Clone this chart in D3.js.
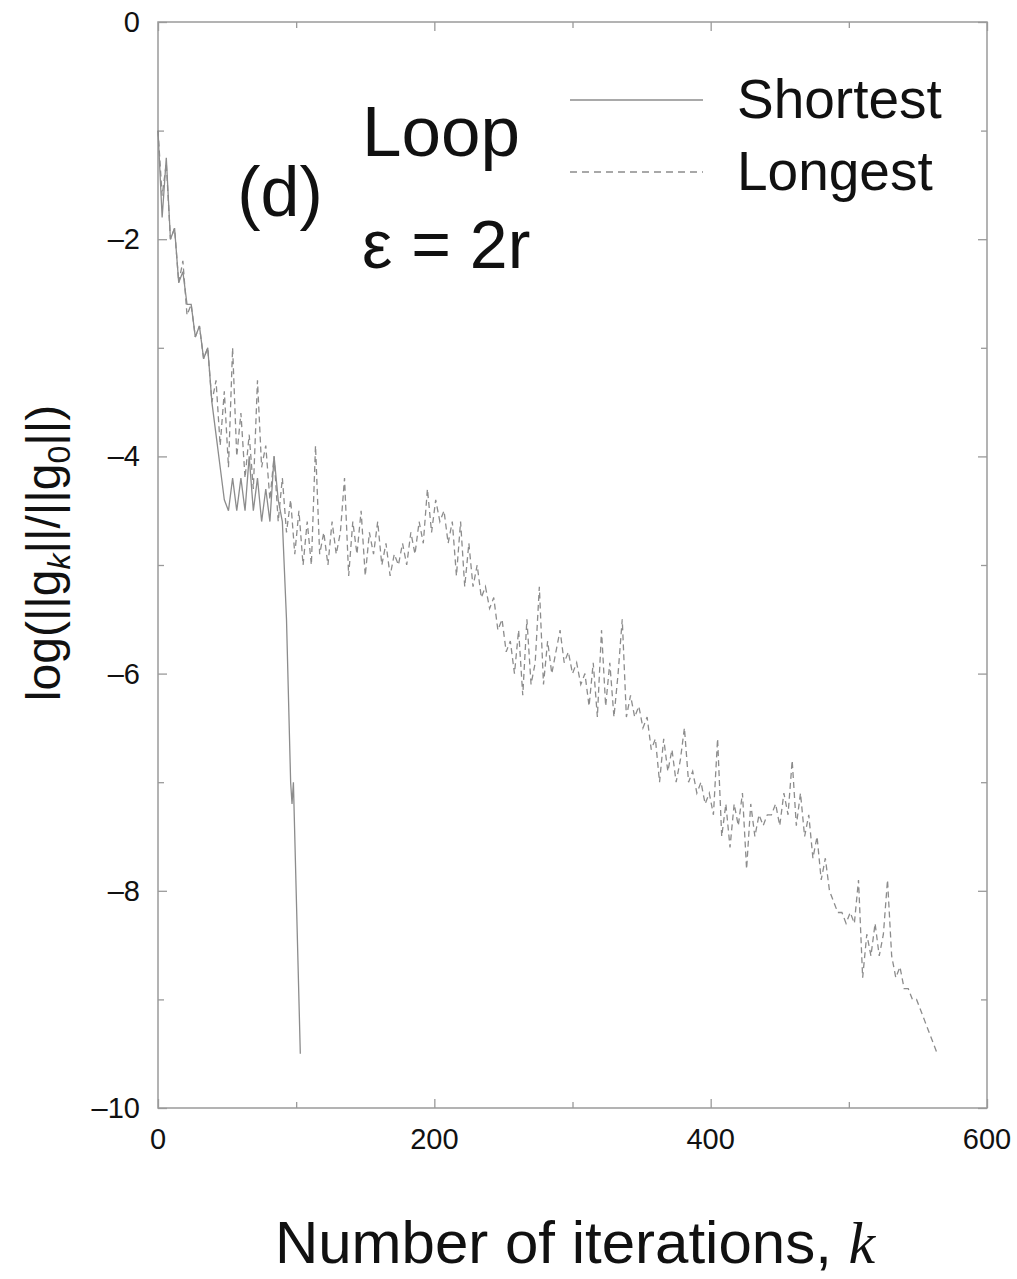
<!DOCTYPE html>
<html>
<head>
<meta charset="utf-8">
<script src="https://cdn.jsdelivr.net/npm/d3@7"></script>
<style>
  body { margin: 0; background: #fff; }
  svg { display: block; }
  text { font-family: "Liberation Sans", Arial, Helvetica, sans-serif; fill: #111; }
</style>
</head>
<body>
<svg id="chart" width="1017" height="1279"></svg>
<script>
// tick values and labels
const xTicks = [0, 200, 400, 600];
const xMinor = [100, 300, 500];
const yTicks = [0, -2, -4, -6, -8, -10];
const yMinor = [-1, -3, -5, -7, -9];
const yTickLabels = ["0", "\u20132", "\u20134", "\u20136", "\u20138", "\u201310"];

// shortest loop: iteration, log residual
const shortestIter = [0, 3, 6, 9, 12, 15, 18, 21, 24, 27, 30, 33, 36, 39, 42, 45, 48, 51, 54, 57,
  60, 63, 66, 69, 72, 75, 78, 81, 84, 87, 90, 93, 96, 97, 98, 103];
const shortestLog = [-1.0, -1.8, -1.25, -2.0, -1.9, -2.4, -2.3, -2.6, -2.6, -2.9, -2.8, -3.1, -3.0, -3.5, -3.8, -4.1, -4.4, -4.5, -4.2, -4.5,
  -4.2, -4.5, -4.0, -4.5, -4.2, -4.6, -4.3, -4.6, -4.0, -4.4, -4.6, -5.5, -7.0, -7.2, -7.0, -9.5];

// longest loop: one value every 3 iterations
const longestStep = 3;
const longestLog = [
  -1.0, -1.6, -1.3, -2.0, -1.9, -2.4, -2.2, -2.7, -2.6, -2.9,
  -2.8, -3.1, -3.0, -3.5, -3.3, -3.9, -3.4, -4.1, -3.0, -4.0,
  -3.6, -4.2, -3.8, -4.3, -3.3, -4.1, -3.9, -4.4, -4.0, -4.6,
  -4.2, -4.7, -4.4, -4.9, -4.5, -5.0, -4.6, -5.0, -3.9, -4.9,
  -4.7, -5.0, -4.6, -4.9, -4.7, -4.2, -5.1, -4.6, -4.9, -4.5,
  -5.1, -4.7, -4.9, -4.6, -5.0, -4.8, -5.1, -4.9, -5.0, -4.8,
  -5.0, -4.7, -4.9, -4.6, -4.8, -4.3, -4.7, -4.4, -4.6, -4.5,
  -4.8, -4.6, -5.1, -4.6, -5.2, -4.8, -5.2, -5.0, -5.3, -5.2,
  -5.4, -5.3, -5.6, -5.5, -5.8, -5.7, -6.0, -5.6, -6.2, -5.5,
  -6.1, -5.9, -5.2, -6.1, -5.7, -6.0, -5.8, -5.6, -5.9, -5.8,
  -6.0, -5.9, -6.1, -6.0, -6.3, -5.9, -6.4, -5.6, -6.3, -5.9,
  -6.4, -6.0, -5.5, -6.4, -6.2, -6.4, -6.3, -6.5, -6.4, -6.7,
  -6.6, -7.0, -6.6, -6.9, -6.7, -7.0, -6.8, -6.5, -7.0, -6.9,
  -7.1, -7.0, -7.2, -7.1, -7.3, -6.6, -7.5, -7.2, -7.6, -7.2,
  -7.4, -7.1, -7.8, -7.2, -7.5, -7.3, -7.4, -7.3, -7.3, -7.2,
  -7.4, -7.1, -7.3, -6.8, -7.4, -7.1, -7.5, -7.3, -7.7, -7.5,
  -7.9, -7.7, -8.0, -8.1, -8.2, -8.2, -8.3, -8.2, -8.3, -7.9,
  -8.8, -8.4, -8.6, -8.3, -8.6, -8.4, -7.9, -8.6, -8.8, -8.7,
  -8.9, -8.9, -9.0, -9.0, -9.1, -9.2, -9.3, -9.4, -9.5
];

const legendNames = ["Shortest", "Longest"];

const margin = { left: 158, top: 22, right: 30, bottom: 171 };
const W = 1017, H = 1279;
const iw = W - margin.left - margin.right;
const ih = H - margin.top - margin.bottom;

const svg = d3.select("#chart");
const g = svg.append("g").attr("transform", `translate(${margin.left},${margin.top})`);

const x = d3.scaleLinear().domain([0, 600]).range([0, iw]);
const y = d3.scaleLinear().domain([-10, 0]).range([ih, 0]);

const frameColor = "#9a9a9a";
const lineColor = "#8c8c8c";

// frame
g.append("rect")
  .attr("width", iw).attr("height", ih)
  .attr("fill", "none").attr("stroke", frameColor).attr("stroke-width", 1.5);

// inward ticks on all four sides
function ticks(axis, values, size, transform) {
  const a = g.append("g").attr("transform", transform)
    .call(axis.tickValues(values).tickSize(-size).tickSizeOuter(0).tickFormat(""));
  a.select(".domain").remove();
  a.selectAll("line").attr("stroke", frameColor).attr("stroke-width", 1.3);
}
ticks(d3.axisBottom(x), xTicks, 9, `translate(0,${ih})`);
ticks(d3.axisBottom(x), xMinor, 6, `translate(0,${ih})`);
ticks(d3.axisTop(x), xTicks, 9, "translate(0,0)");
ticks(d3.axisTop(x), xMinor, 6, "translate(0,0)");
ticks(d3.axisLeft(y), yTicks, 9, "translate(0,0)");
ticks(d3.axisLeft(y), yMinor, 6, "translate(0,0)");
ticks(d3.axisRight(y), yTicks, 9, `translate(${iw},0)`);
ticks(d3.axisRight(y), yMinor, 6, `translate(${iw},0)`);

// tick labels
g.selectAll(".xlab").data(xTicks).join("text")
  .attr("x", d => x(d)).attr("y", ih + 41)
  .attr("text-anchor", "middle").attr("font-size", 29)
  .text(d => d);
g.selectAll(".ylab").data(yTicks).join("text")
  .attr("x", -18).attr("y", d => y(d) + 10)
  .attr("text-anchor", "end").attr("font-size", 29)
  .text((d, i) => yTickLabels[i]);

// series
const line = d3.line().x(d => x(d[0])).y(d => y(d[1]));
const shortest = shortestIter.map((k, i) => [k, shortestLog[i]]);
const longest = longestLog.map((v, i) => [i * longestStep, v]);

g.append("path").datum(longest)
  .attr("d", line).attr("fill", "none")
  .attr("stroke", lineColor).attr("stroke-width", 1.3)
  .attr("stroke-dasharray", "6,4");
g.append("path").datum(shortest)
  .attr("d", line).attr("fill", "none")
  .attr("stroke", lineColor).attr("stroke-width", 1.3);

// legend
const legend = svg.append("g");
legendNames.forEach((name, i) => {
  const ly = 100 + i * 72;
  legend.append("line")
    .attr("x1", 570).attr("x2", 703).attr("y1", ly).attr("y2", ly)
    .attr("stroke", lineColor).attr("stroke-width", 1.3)
    .attr("stroke-dasharray", i === 1 ? "7,5" : null);
  legend.append("text")
    .attr("x", 737).attr("y", ly + 18)
    .attr("font-size", 55).text(name);
});

// annotations
svg.append("text").attr("x", 280).attr("y", 216)
  .attr("text-anchor", "middle").attr("font-size", 70).text("(d)");
svg.append("text").attr("x", 362).attr("y", 156)
  .attr("font-size", 71).text("Loop");
svg.append("text").attr("x", 362).attr("y", 268)
  .attr("font-size", 68).text("\u03b5 = 2r");

// axis titles
const xt = svg.append("text").attr("x", 575).attr("y", 1263)
  .attr("text-anchor", "middle").attr("font-size", 60);
xt.append("tspan").text("Number of iterations, ");
xt.append("tspan").attr("font-family", "'Liberation Serif', 'Times New Roman', serif")
  .attr("font-style", "italic").text("k");

const yt = svg.append("text")
  .attr("transform", "translate(60,553) rotate(-90)")
  .attr("text-anchor", "middle").attr("font-size", 48);
yt.append("tspan").text("log(||g");
yt.append("tspan").attr("font-size", 32).attr("dy", 10).attr("font-style", "italic").text("k");
yt.append("tspan").attr("dy", -10).text("||/||g");
yt.append("tspan").attr("font-size", 32).attr("dy", 10).text("0");
yt.append("tspan").attr("dy", -10).text("||)");
</script>
</body>
</html>
